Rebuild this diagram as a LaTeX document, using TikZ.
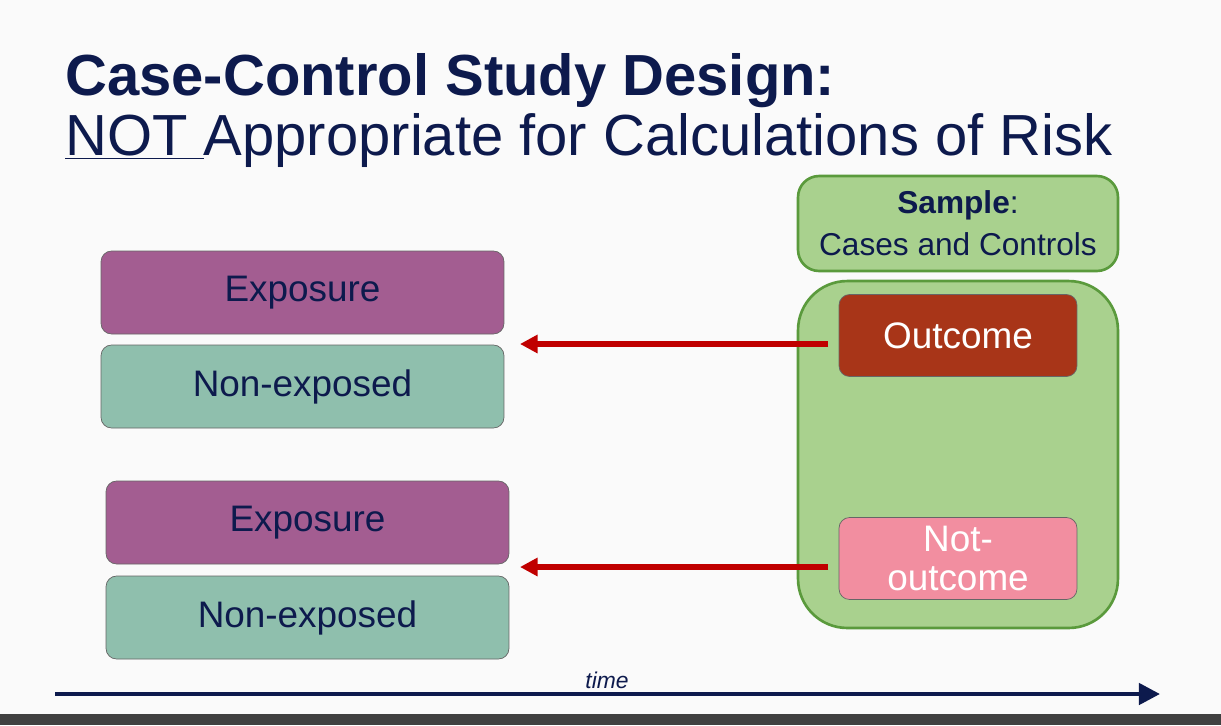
\documentclass[tikz,border=0pt]{standalone}
\usepackage{fontspec}
\setmainfont{Liberation Sans}
\usetikzlibrary{positioning, arrows.meta}
\definecolor{navy}{HTML}{0D1A4D}
\definecolor{expo}{HTML}{A35D91}
\definecolor{nonexpo}{HTML}{8FBFAD}
\definecolor{samp}{HTML}{A9D18E}
\definecolor{sampline}{HTML}{5A9A3C}
\definecolor{outc}{HTML}{A83518}
\definecolor{notoutc}{HTML}{F28EA0}
\definecolor{arr}{HTML}{C00000}

\tikzset{
    grp/.style={draw=black!60, rounded corners=6pt, minimum width=8.06cm, minimum height=1.66cm, text=navy, font=\fontsize{21}{22}\selectfont},
    res/.style={draw=black!60, rounded corners=6pt, minimum width=4.76cm, minimum height=1.64cm, text=white, align=center, font=\fontsize{21}{22}\selectfont},
    back/.style={->, >={Triangle[length=10pt,width=10pt]}, line width=3pt, draw=arr}
}

\begin{document}
\begin{tikzpicture}[x=0.02cm, y=-0.02cm]
    \fill[white!98!black] (0,0) rectangle (1221,725);
    \fill[black!75] (0,714) rectangle (1221,725);

    % title
    \node[anchor=base west, inner sep=0, text=navy, font=\fontsize{33}{35}\selectfont\bfseries] (title) at (65,95) {Case-Control Study Design:};
    \node[anchor=base west, inner sep=0, text=navy, font=\fontsize{33}{35}\selectfont] (sub) at (65,155) {\underline{NOT }Appropriate for Calculations of Risk};

    % exposure groups
    \node[grp, fill=expo] (e1) at (302.5,292.5) {Exposure};
    \node[grp, fill=nonexpo] (n1) at (302.5,386.5) {Non-exposed};
    \node[grp, fill=expo] (e2) at (307.5,522.5) {Exposure};
    \node[grp, fill=nonexpo] (n2) at (307.5,617.5) {Non-exposed};

    % sample
    \node[draw=sampline, fill=samp, line width=1.5pt, rounded corners=12pt, minimum width=6.4cm, minimum height=1.9cm, text=navy, align=center, font=\fontsize{18}{24}\selectfont] (sample) at (958,223.5) {\textbf{Sample}:\\Cases and Controls};
    \node[draw=sampline, fill=samp, line width=1.5pt, rounded corners=28pt, minimum width=6.4cm, minimum height=6.94cm] (pool) at (958,454.5) {};
    \node[res, fill=outc] (out) at (958,335.5) {Outcome};
    \node[res, fill=notoutc] (notout) at (958,558.5) {Not-\\outcome};

    \coordinate (a1) at (828,344);
    \coordinate (a2) at (828,567);
    \draw[back] (a1) -- (520,344);
    \draw[back] (a2) -- (520,567);

    % time axis
    \coordinate (t0) at (55,694);
    \coordinate (t1) at (1160,694);
    \draw[->, >={Triangle[length=12pt,width=12pt]}, line width=2.5pt, draw=navy] (t0) -- (t1);
    \node[text=navy, font=\fontsize{13}{14}\selectfont\itshape] (time) at (607,680) {time};
\end{tikzpicture}
\end{document}
